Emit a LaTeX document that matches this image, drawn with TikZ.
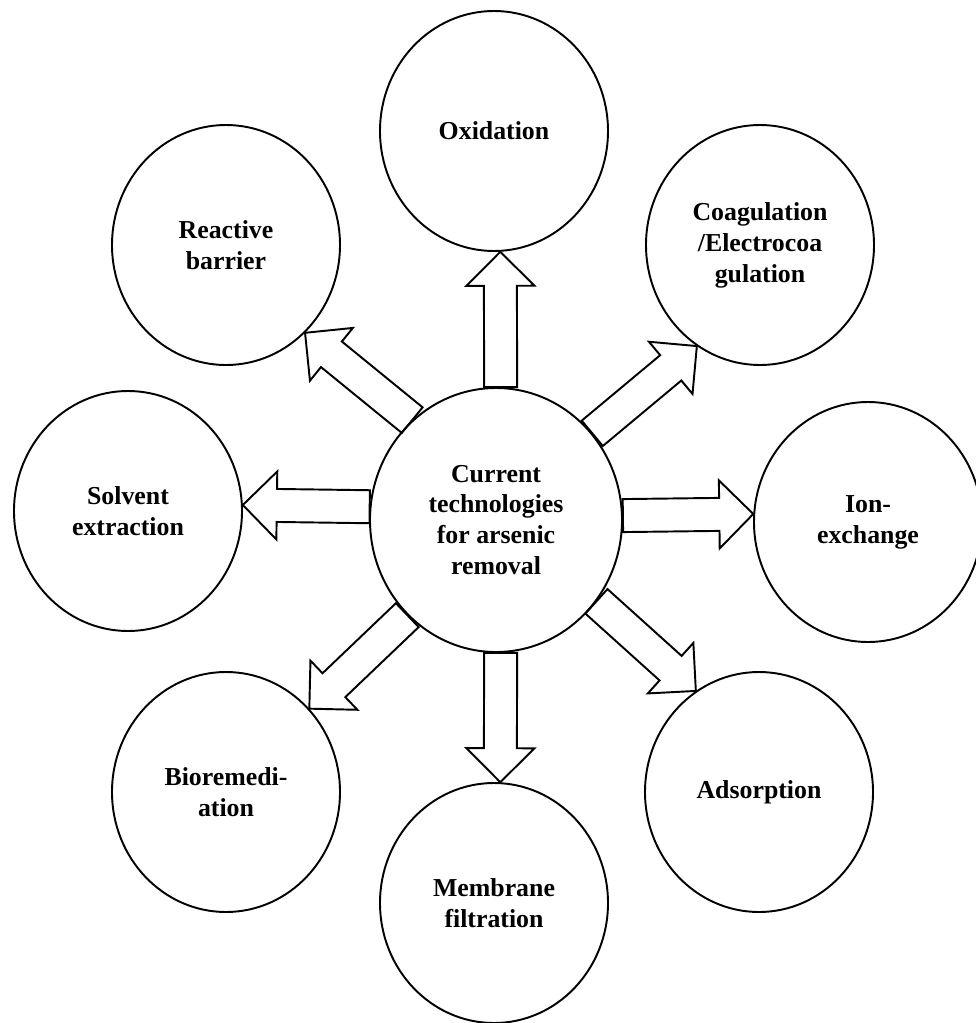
\documentclass[tikz,border=0pt]{standalone}
\usepackage{fontspec}
\setmainfont{Liberation Serif}
\usetikzlibrary{shapes.geometric, calc}

% hollow block arrow from #1 to #2
\newcommand{\fatarrow}[2]{%
  \draw[fatline] let \p1=($(#2)-(#1)$), \n1={atan2(\y1,\x1)} in
    ($(#1)+({\n1+90}:3.3mm)$)
    -- ($(#2)+({\n1+180}:6.8mm)+({\n1+90}:3.3mm)$)
    -- ($(#2)+({\n1+180}:6.8mm)+({\n1+90}:6.8mm)$)
    -- (#2)
    -- ($(#2)+({\n1+180}:6.8mm)+({\n1-90}:6.8mm)$)
    -- ($(#2)+({\n1+180}:6.8mm)+({\n1-90}:3.3mm)$)
    -- ($(#1)+({\n1-90}:3.3mm)$) -- cycle;}

\begin{document}
\begin{tikzpicture}[
    x=0.2mm, y=-0.2mm,
    tech/.style={ellipse, draw, line width=1.1pt, minimum width=45.6mm, minimum height=48mm,
        inner sep=0pt, align=center, font=\fontsize{14.7}{17.6}\selectfont\bfseries},
    fatline/.style={line width=1.1pt, line join=miter}
]
\clip (0,0) rectangle (976,1023);

% Nodes
\node[tech, minimum width=50.4mm, minimum height=52.8mm] (cur) at (496,520)
    {Current\\technologies\\for arsenic\\removal};

\node[tech] (ox) at (494,131) {Oxidation};
\node[tech] (coag) at (760,245) {Coagulation\\/Electrocoa\\gulation};
\node[tech] (ion) at (868,522) {Ion-\\exchange};
\node[tech] (ads) at (759,792) {Adsorption};
\node[tech] (mem) at (494,903) {Membrane\\filtration};
\node[tech] (bio) at (226,792) {Bioremedi-\\ation};
\node[tech] (sol) at (128,511) {Solvent\\extraction};
\node[tech] (rb) at (226,245) {Reactive\\barrier};

% Arrows
\fatarrow{cur.88}{ox.-87}
\fatarrow{cur.42}{coag.-122}
\fatarrow{cur.2}{ion.176}
\fatarrow{cur.-39}{ads.122}
\fatarrow{cur.-88}{mem.87}
\fatarrow{cur.-133}{bio.45}
\fatarrow{cur.174}{sol.3}
\fatarrow{cur.130}{rb.-48}

\end{tikzpicture}
\end{document}
